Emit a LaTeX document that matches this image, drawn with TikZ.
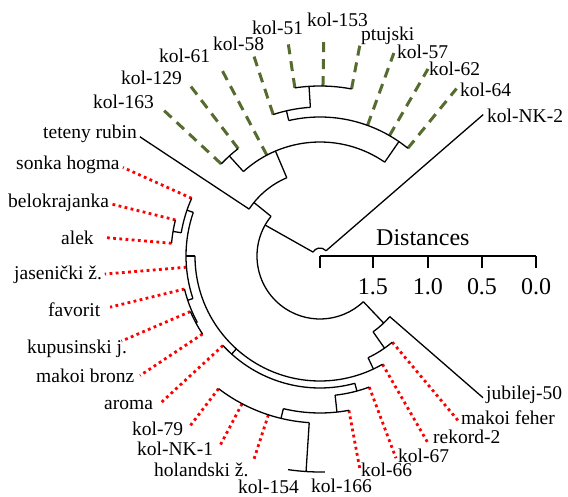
\documentclass[tikz,border=0pt]{standalone}
\usepackage{fontspec}
\setmainfont{Liberation Serif}
\definecolor{olive}{RGB}{85,107,47}
\definecolor{dotred}{RGB}{255,0,0}
\tikzset{
  branch/.style={line width=1.3pt,black},
  greenleaf/.style={line width=3pt,olive,dash pattern=on 10pt off 7pt},
  redleaf/.style={line width=2.8pt,dotred,dash pattern=on 2.8pt off 3.4pt},
  leaflab/.style={font=\fontsize{19.5}{22}\selectfont,inner sep=0pt,anchor=base west},
  axislab/.style={font=\fontsize{24}{28}\selectfont,inner sep=0pt,anchor=base},
}
\newcommand{\farc}[3]{\draw[branch] (#2:#1) arc[start angle=#2,end angle=#3,radius=#1pt];}

\begin{document}
\begin{tikzpicture}[x=1pt,y=1pt]
\useasboundingbox (-320,-241) rectangle (248,256);
\coordinate (root) at (0,0);

% tips and branch starts
\foreach \n/\a/\r in {nk2/40.9/8,k64/50.8/139,k62/60/139,k57/70/139,ptu/79.3/170,k153/89/170,k51/98.5/170,
  k58/108.3/149,k61/117.8/114,k129/127.3/135,k163/137/135,tet/146.5/85,sonka/155.8/140.7,belo/166/149,
  alek/175.1/149,jas/184.8/134,fav/193.7/139.5,kup/203.2/141,bronz/213.6/141,aroma/222.7/132,
  k79/232.6/167,nk1/242.2/167,hol/252/167,k66/280.6/157,k67/290.6/140,rek/300/125,feher/310/112.5,jub/319/92.5}
{
  \coordinate (b-\n) at (\a:\r);
  \coordinate (t-\n) at (\a:216);
}
\coordinate (t-k154) at (261.5:216);
\coordinate (t-k166) at (271.3:216);

% leaves
\foreach \n in {nk2,tet,jub}
  \draw[branch] (b-\n) -- (t-\n);
\foreach \n in {k64,k62,k57,ptu,k153,k51,k58,k61,k129,k163}
  \draw[greenleaf] (b-\n) -- (t-\n);
\foreach \n in {sonka,belo,alek,jas,fav,kup,bronz,aroma,k79,nk1,hol,k66,k67,rek,feher}
  \draw[redleaf] (b-\n) -- (t-\n);

% arcs of the internal nodes
\foreach \r/\a/\b in {8/40.9/150.6,63/141/313.5,85/113/146.5,114/55.4/132.2,135/127.3/137,139/50.8/103,
  149/93.7/108.3,170/79.3/98.5,92.5/305/319,112.5/295.3/310,125/180/300,132/222.7/285.3,140/276.2/290.6,
  157/256.5/280.6,167/232.6/266.3,216/261.5/271.3,149/166/175.1,140.7/155.8/170.5,134/161/198.5,
  139.5/193.7/208.4,141/203.2/213.6}
  {\farc{\r}{\a}{\b}}

% radial edges
\foreach \a/\p/\c in {150.6/8/63,141/63/85,113/85/114,132.2/114/135,55.4/114/139,103/139/149,93.7/149/170,
  266.3/167/216,313.5/63/92.5,305/92.5/112.5,295.3/112.5/125,228/125/132,285.3/132/140,276.2/140/157,
  256.5/157/167,170.5/140.7/149,161/134/140.7,198.5/134/139.5,208.4/139.5/141,180/125/134}
  {\draw[branch] (\a:\p) -- (\a:\c);}

% labels
\foreach \n/\x/\y/\t in {k51/252/35/kol-51,k58/213/51/kol-58,k61/159/63/kol-61,k129/121/85/kol-129,
  k163/93/109/kol-163,k153/307/27/kol-153,ptu/361/41/ptujski,k57/397/59/kol-57,k62/429/76/kol-62,
  k64/460/97/kol-64,nk2/487/123/kol-NK-2,tet/43/139/teteny rubin,sonka/16/170/sonka hogma,
  belo/8/208/belokrajanka,alek/61/245/alek,jas/14/280/jasenički ž.,fav/48/317/favorit,
  kup/27/354/kupusinski j.,bronz/36/383/makoi bronz,aroma/104/410/aroma,k79/132/436/kol-79,
  nk1/137/456/kol-NK-1,hol/154/477/holandski ž.,k154/238/494/kol-154,jub/486/400/jubilej-50,
  feher/461/425/makoi feher,rek/433/444/rekord-2,k67/398/463/kol-67,k66/361/477/kol-66,
  k166/311/493/kol-166}
  {\node[leaflab] (l-\n) at (\x-320,256-\y) {\t};}

% distance axis
\coordinate (ax0) at (0,0);
\coordinate (ax4) at (216,0);
\draw[branch] (ax0) -- (ax4);
\foreach \x/\v in {0/,53/1.5,108/1.0,162/0.5,216/0.0}{
  \draw[branch] (\x,0) -- (\x,-12);
  \node[axislab] (tick\x) at (\x,-39) {\v};
}
\node[axislab,anchor=base west] (axtitle) at (56,10) {Distances};
\end{tikzpicture}
\end{document}
